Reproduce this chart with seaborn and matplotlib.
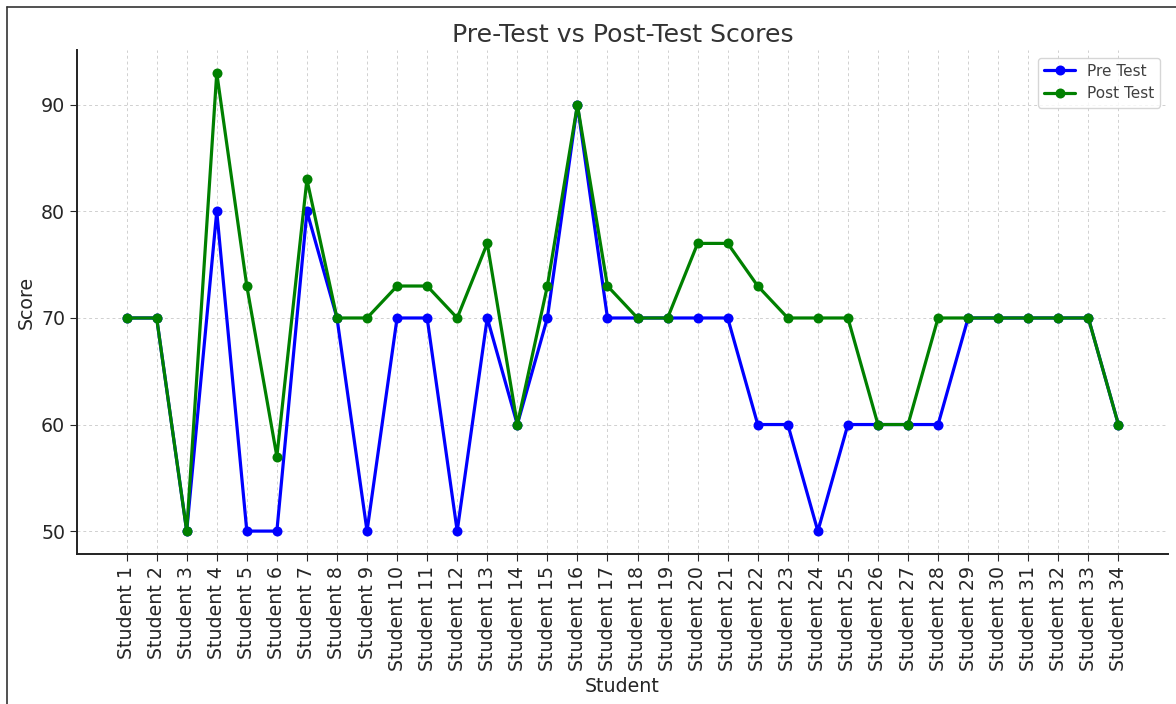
import pandas as pd
import seaborn as sns
import matplotlib.pyplot as plt
from matplotlib.lines import Line2D

# Scores per student
students = [f"Student {i}" for i in range(1, 35)]
pre_test = [70, 70, 50, 80, 50, 50, 80, 70, 50, 70, 70, 50, 70, 60, 70, 90, 70,
            70, 70, 70, 70, 60, 60, 50, 60, 60, 60, 60, 70, 70, 70, 70, 70, 60]
post_test = [70, 70, 50, 93, 73, 57, 83, 70, 70, 73, 73, 70, 77, 60, 73, 90, 73,
             70, 70, 77, 77, 73, 70, 70, 70, 60, 60, 70, 70, 70, 70, 70, 70, 60]

df = pd.DataFrame({'Student': students, 'Pre Test': pre_test, 'Post Test': post_test})

sns.set_style("ticks", {"axes.grid": True, "grid.linestyle": "--",
                        "grid.color": "#cccccc"})

fig, ax = plt.subplots(figsize=(11.76, 7.04), dpi=100)
fig.subplots_adjust(left=77/1176, right=1168/1176, top=1-50/704, bottom=1-554/704)

# post test sits on top where the two tie
for col, color, z in [('Pre Test', 'blue', 3), ('Post Test', 'green', 4)]:
    sns.lineplot(data=df, x='Student', y=col, sort=False, color=color, label=col,
                 marker='o', markersize=7.2, markeredgewidth=0, linewidth=2.3,
                 zorder=z, ax=ax)

sns.despine(ax=ax)
ax.grid(True, linestyle=(0, (3, 3)), linewidth=0.7, color='#d0d0d0')
ax.set_axisbelow(True)
for s in ['left', 'bottom']:
    ax.spines[s].set_linewidth(1.4)
    ax.spines[s].set_color('#222222')

ax.set_title('Pre-Test vs Post-Test Scores', fontsize=18.1, color='.2')
ax.set_xlabel('Student', fontsize=13.7, color='.15')
ax.set_ylabel('Score', fontsize=13.7, color='.15')
ax.tick_params(axis='x', labelrotation=90, labelsize=13.7, colors='.15', length=5)
ax.tick_params(axis='y', labelsize=13.7, colors='.15', length=5)
ax.set_yticks([50, 60, 70, 80, 90])

leg = ax.legend(loc='upper right', fontsize=11, frameon=True)
leg.get_frame().set_edgecolor('#cccccc')
leg.set_zorder(10)
for t in leg.get_texts():
    t.set_color('.25')

# frame around the screenshot (top and left edges)
fig.add_artist(Line2D([7/1176, 1], [1-7/704, 1-7/704], color='#333333', linewidth=1.2))
fig.add_artist(Line2D([7/1176, 7/1176], [0, 1-7/704], color='#333333', linewidth=1.2))

plt.savefig('out.png', dpi=100)
